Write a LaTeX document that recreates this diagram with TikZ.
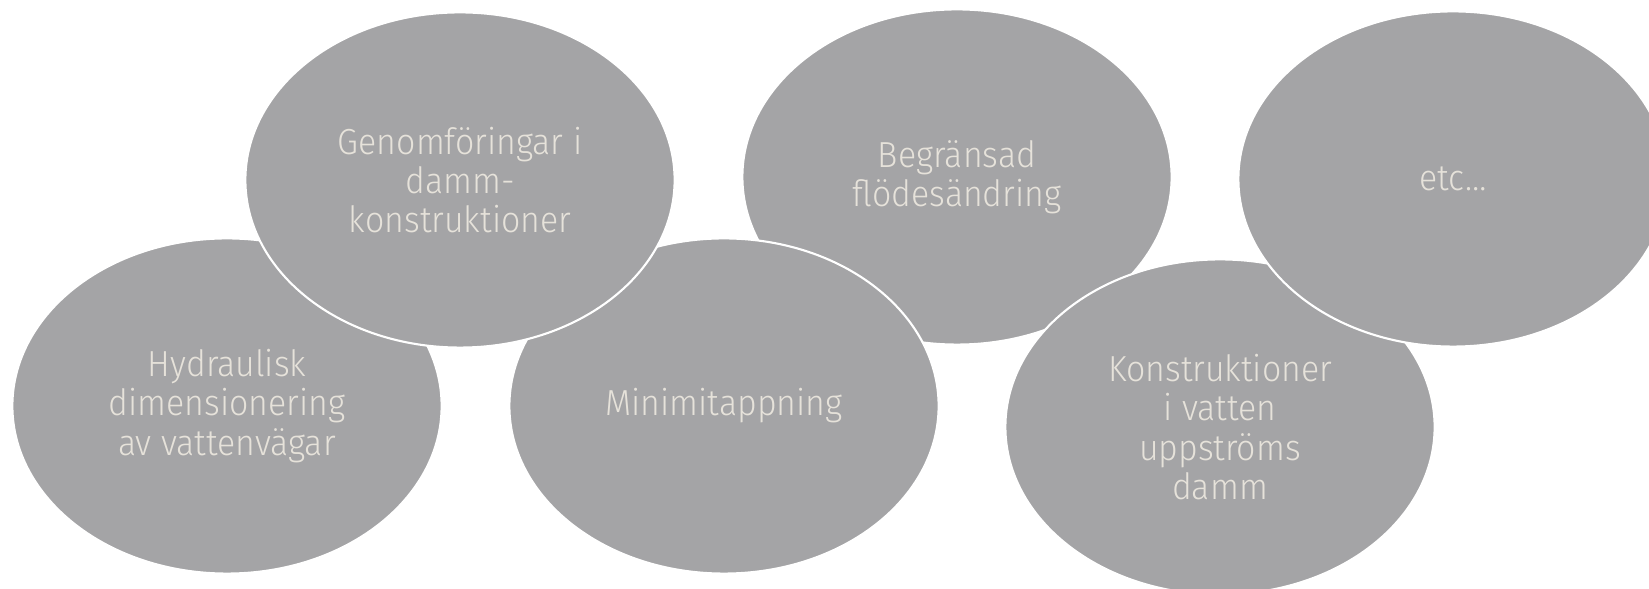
\documentclass[tikz,border=0pt]{standalone}
\usepackage{fontspec}
\setmainfont{Fira Sans}[UprightFont=* Light,FakeStretch=0.935]
\usetikzlibrary{shapes.geometric}
\definecolor{BubbleClr}{RGB}{164,164,166}
\definecolor{LabelClr}{RGB}{230,226,218}

\begin{document}
\begin{tikzpicture}[x=0.01cm,y=-0.01cm,
  bubble/.style={ellipse,fill=BubbleClr,draw=white,line width=0.6pt,
    minimum width=4.29cm,minimum height=3.35cm,inner sep=0pt,
    text=LabelClr,align=center,font=\fontsize{10.3}{11.2}\selectfont}]
\useasboundingbox (0,0) rectangle (1649,589);

% Bubblorna ritas i denna ordning, så att de ligger över varandra som i originalet.
\node[bubble] (hydr) at (227,406) {Hydraulisk\\dimensionering\\av vattenvägar};
\node[bubble] (begr) at (957,177) {Begränsad\\flödesändring};
\node[bubble] (minim) at (724,406) {Minimitappning};
\node[bubble] (genom) at (460,180) {Genomföringar i\\damm-\\konstruktioner};
\node[bubble] (konstr) at (1220,427) {Konstruktioner\\i vatten\\uppströms\\damm};
\node[bubble] (etc) at (1453,179) {etc…};

\end{tikzpicture}
\end{document}
